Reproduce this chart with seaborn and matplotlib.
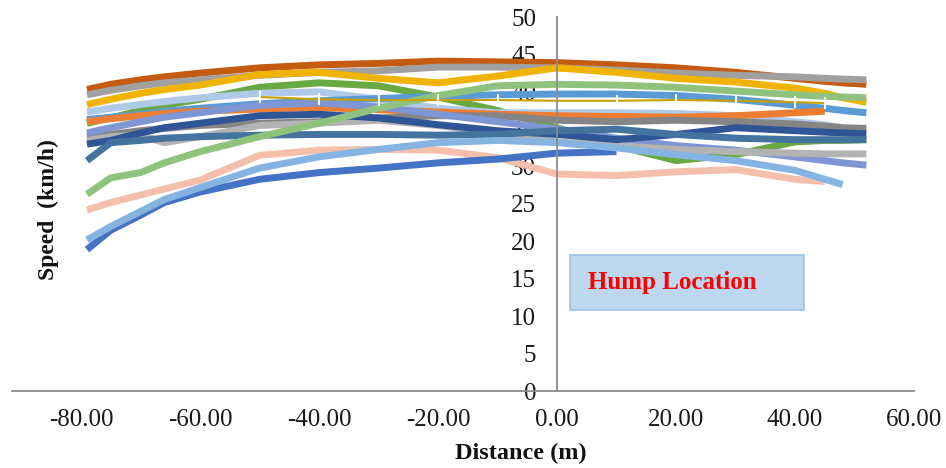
import matplotlib
matplotlib.use("Agg")
import matplotlib.pyplot as plt
import numpy as np
import pandas as pd
import seaborn as sns
from matplotlib.patches import Rectangle

# ---------------- data ----------------
DIST = [-79, -75, -70, -66, -60, -50, -40, -30, -20, -10, 0, 10, 20, 30, 40, 45, 48, 52]
N = None

run_dark_orange = [40.3, 41.0, 41.6, 42.0, 42.5, 43.2, 43.6, 43.8, 44.1, 44.0, 43.9, 43.6, 43.2, 42.6, 41.8, 41.4, 41.2, 41.0]
run_gray_top    = [39.6, 40.2, 40.8, 41.2, 41.6, 42.2, 42.6, 42.8, 43.3, 43.3, 43.2, 42.9, 42.5, 42.2, 42.0, 41.8, 41.7, 41.6]
run_gold        = [38.3, 39.0, 39.8, 40.3, 40.9, 42.3, 42.6, 41.8, 41.2, 42.1, 43.2, 42.6, 41.8, 41.3, 40.5, 39.8, 39.2, 38.6]
run_green       = [35.8, 36.5, 37.5, 38.2, 39.0, 40.6, 41.2, 40.8, 39.3, 37.5, 35.2, 32.8, 30.8, 31.6, 33.3, 33.5, 33.5, 33.6]
run_light_blue  = [37.3, 37.8, 38.3, 38.7, 39.2, 39.8, 40.0, 39.0, 37.8, 37.2, 37.2, 37.2, 37.1, 36.8, 36.0, 35.6, 35.2, N]
run_mid_blue    = [36.3, 36.6, 37.0, 37.4, 37.8, 38.4, 38.8, 39.1, 39.4, 39.6, 39.7, 39.7, 39.5, 39.0, 38.2, 37.8, 37.5, 37.2]
run_orange      = [36.0, 36.4, 36.8, 37.1, 37.4, 37.7, 37.9, 37.6, 37.3, 37.0, 36.8, 36.7, 36.6, 36.8, 37.2, 37.4, N, N]
run_dark_gray   = [34.0, 34.3, 34.8, 35.1, 35.5, 35.8, 36.0, 36.5, 36.8, 36.8, 36.2, 36.0, 36.2, 36.0, 35.7, 35.4, 35.2, 35.1]
run_periwinkle  = [34.5, 35.2, 36.0, 36.6, 37.2, 38.2, 38.5, 38.0, 37.0, 36.0, 35.0, 33.8, 32.8, 32.2, 31.3, 30.8, 30.5, 30.2]
run_light_gray  = [33.5, 34.0, 34.2, 33.2, 34.0, 35.5, 35.8, 36.2, 35.5, 34.5, 33.3, 32.8, 32.3, 32.0, 31.8, 31.7, 31.7, 31.7]
run_dark_blue   = [33.0, 33.5, 34.5, 35.2, 35.8, 36.8, 37.0, 36.5, 35.6, 34.8, 34.3, 33.6, 34.3, 35.2, 34.8, 34.6, 34.5, 34.4]
run_steel_blue  = [30.8, 33.2, 33.5, 33.8, 34.0, 34.2, 34.3, 34.3, 34.2, 34.3, 34.8, 35.0, 34.3, 33.8, 33.6, 33.6, 33.6, 33.6]
run_salmon      = [24.2, 25.2, 26.2, 27.0, 28.2, 31.5, 32.2, 32.3, 32.2, 31.2, 29.0, 28.8, 29.3, 29.6, 28.3, 28.0, N, N]
run_royal_blue  = [18.9, 21.5, 23.5, 25.2, 26.6, 28.3, 29.2, 29.8, 30.5, 31.0, 31.8, 32.0, N, N, N, N, N, N]
run_pale_blue_x = [20.2, 22.0, 24.0, 25.6, 27.2, 29.8, 31.3, 32.3, 33.2, 33.5, 33.2, 32.5, 31.6, 30.8, 29.5, 28.3, 27.6, N]
run_light_green = [26.3, 28.5, 29.2, 30.5, 32.0, 34.0, 35.8, 37.8, 39.5, 40.8, 41.0, 40.9, 40.6, 40.1, 39.6, 39.4, 39.3, 39.2]
run_dark_gold   = [N, N, N, N, N, 39.3, 39.0, 38.9, 38.9, 38.9, 38.8, 38.8, 38.9, 38.8, 38.6, 38.5, N, N]

RUNS = [
    ("R1", run_dark_orange, "#C55A11"),
    ("R2", run_gray_top, "#A0A0A0"),
    ("R3", run_gold, "#F0B400"),
    ("R4", run_green, "#6AA842"),
    ("R5", run_light_blue, "#AFC9E9"),
    ("R6", run_mid_blue, "#5B9BD5"),
    ("R7", run_orange, "#ED7D31"),
    ("R8", run_dark_gray, "#858585"),
    ("R9", run_periwinkle, "#7F96D4"),
    ("R10", run_light_gray, "#B3B3B3"),
    ("R11", run_dark_blue, "#2F5597"),
    ("R12", run_steel_blue, "#44739F"),
    ("R13", run_salmon, "#F4BFAB"),
    ("R14", run_royal_blue, "#4472C4"),
    ("R15", run_pale_blue_x, "#86B4E2"),
    ("R16", run_light_green, "#8FC27C"),
]

HUMP_X = [2.2, 41.5]
HUMP_Y = [10.8, 18.2]
X_TICKS = [-80, -60, -40, -20, 0, 20, 40, 60]
Y_TICKS = list(range(0, 51, 5))

# ---------------- build long table ----------------
rows = []
for name, vals, _ in RUNS:
    for d, v in zip(DIST, vals):
        if v is not None:
            rows.append({"Run": name, "Distance": d, "Speed": v})
df = pd.DataFrame(rows)
gold_df = pd.DataFrame({"Distance": DIST, "Speed": run_dark_gold}).dropna()

sns.set_theme(style="white")
plt.rcParams["font.family"] = ["Liberation Serif", "DejaVu Serif"]

fig = plt.figure(figsize=(9.46, 4.68), dpi=100)
ax = fig.add_axes([12 / 946, 77 / 468, 902 / 946, 374 / 468])

palette = {name: col for name, _, col in RUNS}
order = [name for name, _, _ in RUNS]
sns.lineplot(data=df, x="Distance", y="Speed", hue="Run", hue_order=order,
             palette=palette, linewidth=5, legend=False, sort=False,
             estimator=None, ax=ax)
sns.lineplot(data=gold_df, x="Distance", y="Speed", color="#C9A000",
             linewidth=1.5, marker="|", markersize=9, markeredgewidth=1.5,
             legend=False, ax=ax)
for ln in ax.lines:
    ln.set_solid_capstyle("butt")

ax.set_xlim(-91.6, 60)
ax.set_ylim(0, 50)

for s in ["top", "right"]:
    ax.spines[s].set_visible(False)
ax.spines["left"].set_position(("data", 0))
for s in ["left", "bottom"]:
    ax.spines[s].set_color("#8c8c8c")
    ax.spines[s].set_linewidth(1.3)

ax.set_xticks(X_TICKS)
ax.set_xticklabels([f"{v:.2f}" for v in X_TICKS])
ax.set_yticks(Y_TICKS)
ax.set_yticklabels([str(v) for v in Y_TICKS])
ax.tick_params(axis="both", direction="out", length=6, width=1.3,
               color="#8c8c8c", labelsize=18, labelcolor="#1a1a1a")
ax.tick_params(axis="x", pad=7)
ax.tick_params(axis="y", pad=9)

ax.set_xlabel("Distance (m)", fontsize=17.5, fontweight="bold", color="#111111")
ax.xaxis.set_label_coords((521 - 12) / 902, -(453 - 391) / 374)
ax.xaxis.label.set_va("center")
ax.set_ylabel("Speed  (km/h)", fontsize=17, fontweight="bold", color="#111111")
ax.yaxis.set_label_coords((48 - 12) / 902, (391 - 210) / 374)
ax.yaxis.label.set_va("center")

ax.add_patch(Rectangle((HUMP_X[0], HUMP_Y[0]), HUMP_X[1] - HUMP_X[0],
                       HUMP_Y[1] - HUMP_Y[0], facecolor="#BDD7EE",
                       edgecolor="#9DC3E6", linewidth=1.2, zorder=3))
ax.text(5.2, (HUMP_Y[0] + HUMP_Y[1]) / 2, "Hump Location", color="#FF0000",
        fontsize=18, fontweight="bold", ha="left", va="center", zorder=4)

fig.savefig("out.png", dpi=100)
